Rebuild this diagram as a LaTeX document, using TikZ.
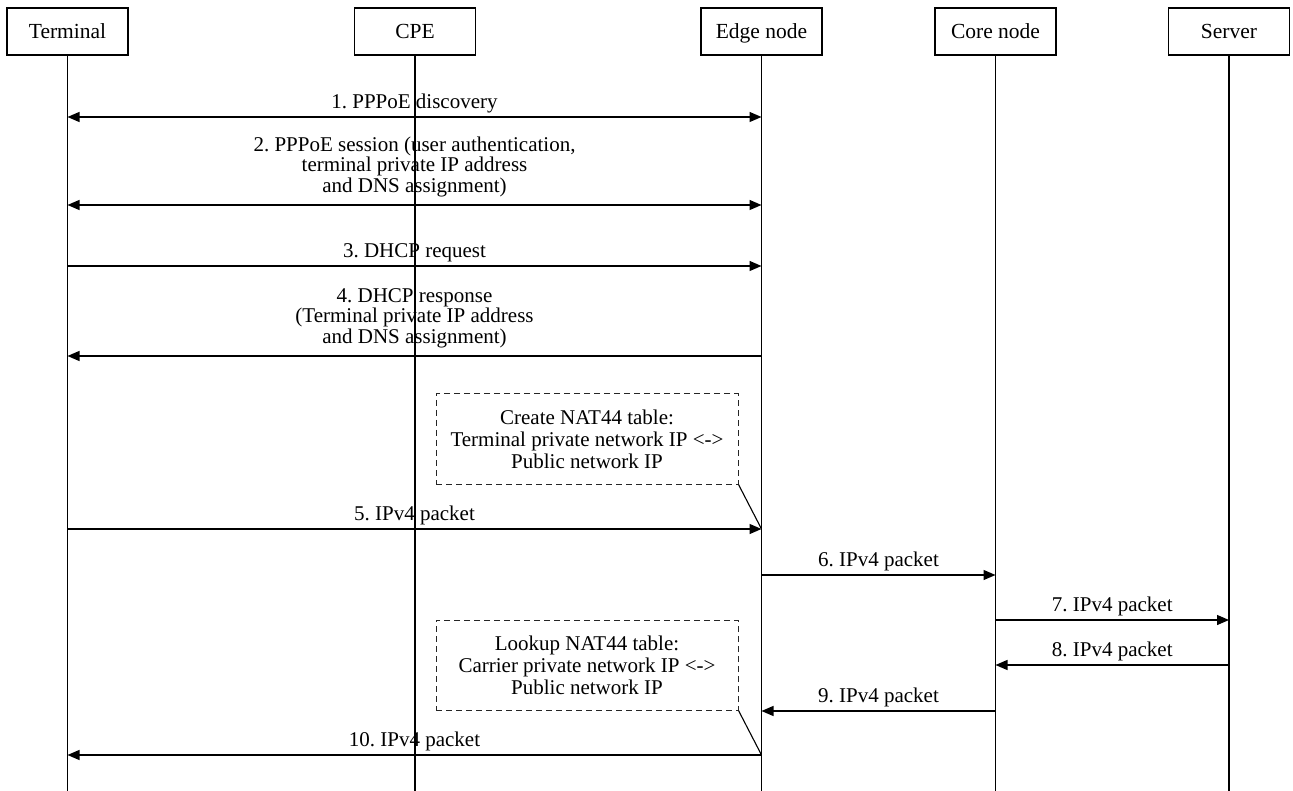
\documentclass[tikz,border=0pt]{standalone}
\usepackage{fontspec}
\setmainfont{Liberation Serif}
\usetikzlibrary{arrows.meta}
\frenchspacing
\begin{document}
\begin{tikzpicture}[x=1pt,y=-1pt,
  actor/.style={draw,line width=1.3pt,minimum width=121pt,minimum height=47pt,inner sep=0pt,
    text height=18pt,text depth=4pt,font=\fontsize{21.5}{22}\selectfont},
  life/.style={line width=1.3pt},
  msg/.style={line width=1.3pt,-{Triangle[length=12pt,width=10pt]}},
  bimsg/.style={line width=1.3pt,{Triangle[length=12pt,width=10pt]}-{Triangle[length=12pt,width=10pt]}},
  lbl/.style={anchor=south,inner sep=3.5pt,align=center,font=\fontsize{21}{22}\selectfont},
  lbltall/.style={lbl,yshift=4pt,font=\fontsize{21}{20.5}\selectfont},
  note/.style={draw=black!85,dash pattern=on 6pt off 4pt,line width=1pt,minimum width=302pt,minimum height=90pt,
    inner sep=0pt,align=center,font=\fontsize{21}{22}\selectfont},
  tie/.style={line width=1.1pt}
]
\useasboundingbox (0,0) rectangle (1293,791);
\fill[white] (0,0) rectangle (1293,791);

% participants
\node[actor] (term)   at (67.5,31.5)  {Terminal};
\node[actor] (cpe)    at (415,31.5)   {CPE};
\node[actor] (edge)   at (761.5,31.5) {Edge node};
\node[actor] (core)   at (995.5,31.5) {Core node};
\node[actor] (server) at (1229,31.5)  {Server};

% lifelines
\coordinate (bottom) at (0,791);
\foreach \p in {term,cpe,edge,core,server}
  \draw[life] (\p.south) -- (\p.south |- bottom);

% messages
\draw[bimsg] (term |- 0,117) -- node[lbl]{1. PPPoE discovery} (edge |- 0,117);
\draw[bimsg] (term |- 0,205) -- node[lbltall]{2. PPPoE session (user authentication,\\terminal private IP address\\and DNS assignment)} (edge |- 0,205);
\draw[msg] (term |- 0,266) -- node[lbl]{3. DHCP request} (edge |- 0,266);
\draw[msg] (edge |- 0,356) -- node[lbltall]{4. DHCP response\\(Terminal private IP address\\and DNS assignment)} (term |- 0,356);

% NAT44 table creation
\node[note] (nat1) at (587,439) {Create NAT44 table:\\Terminal private network IP <->\\Public network IP};
\coordinate (m5) at (edge |- 0,529);
\draw[tie] (nat1.south east) -- (m5);

\draw[msg] (term |- 0,529) -- node[lbl]{5. IPv4 packet} (m5);
\draw[msg] (edge |- 0,575) -- node[lbl]{6. IPv4 packet} (core |- 0,575);
\draw[msg] (core |- 0,620) -- node[lbl]{7. IPv4 packet} (server |- 0,620);
\draw[msg] (server |- 0,665) -- node[lbl]{8. IPv4 packet} (core |- 0,665);

% NAT44 table lookup
\node[note] (nat2) at (587,665) {Lookup NAT44 table:\\Carrier private network IP <->\\Public network IP};
\coordinate (m10) at (edge |- 0,755);
\draw[tie] (nat2.south east) -- (m10);

\draw[msg] (core |- 0,711) -- node[lbl]{9. IPv4 packet} (edge |- 0,711);
\draw[msg] (m10) -- node[lbl]{10. IPv4 packet} (term |- 0,755);
\end{tikzpicture}
\end{document}
